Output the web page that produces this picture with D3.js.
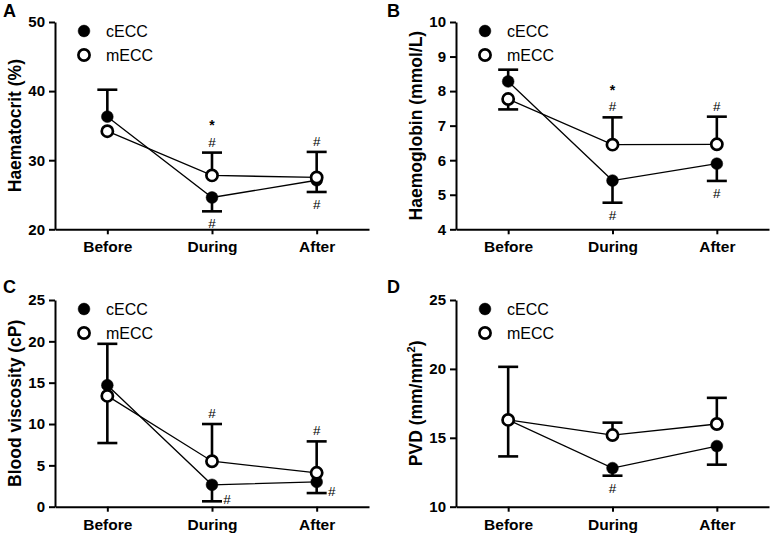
<!DOCTYPE html>
<html>
<head>
<meta charset="utf-8">
<script src="https://cdn.jsdelivr.net/npm/d3@7"></script>
<style>
  html, body { margin: 0; padding: 0; background: #fff; }
  svg { display: block; font-family: "Liberation Sans", Arial, Helvetica, sans-serif; }
</style>
</head>
<body>
<svg id="chart" width="771" height="534"></svg>
<script>
// ---------- data ----------
const categories = ["Before", "During", "After"];
const seriesNames = ["cECC", "mECC"];

// Panel A: Haematocrit (%)
const haematocritC = [36.3, 24.6, 27.1];
const haematocritM = [34.2, 27.8, 27.5];
const haematocritErrC = [3.9, -2.0, -1.7];   // sign = bar direction (+ up, - down)
const haematocritErrM = [0, 3.3, 3.7];
const haematocritTicks = [20, 30, 40, 50];

// Panel B: Haemoglobin (mmol/L)
const haemoglobinC = [8.28, 5.41, 5.90];
const haemoglobinM = [7.77, 6.45, 6.46];
const haemoglobinErrC = [0.34, -0.64, -0.50];
const haemoglobinErrM = [-0.30, 0.79, 0.80];
const haemoglobinTicks = [4, 5, 6, 7, 8, 9, 10];

// Panel C: Blood viscosity (cP)
const viscosityC = [14.7, 2.65, 3.0];
const viscosityM = [13.4, 5.5, 4.1];
const viscosityErrC = [5.0, -2.0, -1.35];
const viscosityErrM = [-5.7, 4.5, 3.8];
const viscosityTicks = [0, 5, 10, 15, 20, 25];

// Panel D: PVD (mm/mm2)
const pvdC = [16.3, 12.8, 14.4];
const pvdM = [16.3, 15.2, 16.0];
const pvdErrC = [3.85, -0.55, -1.35];
const pvdErrM = [-2.65, 0.9, 1.9];
const pvdTicks = [10, 15, 20, 25];

// significance marks: [category index, series index, placement, symbols (bottom -> top)]
const marksA = [[1, 1, "above", ["#", "*"]], [2, 1, "above", ["#"]], [1, 0, "below", ["#"]], [2, 0, "below", ["#"]]];
const marksB = [[1, 1, "above", ["#", "*"]], [2, 1, "above", ["#"]], [1, 0, "below", ["#"]], [2, 0, "below", ["#"]]];
const marksC = [[1, 1, "above", ["#"]], [2, 1, "above", ["#"]], [1, 0, "right", ["#"]], [2, 0, "right", ["#"]]];
const marksD = [[1, 0, "below", ["#"]]];

// ---------- layout ----------
const panels = [
  { label: "A", title: "Haematocrit (%)", x0: 55, x1: 369, y0: 22, y1: 229.3,
    domain: [20, 50], ticks: haematocritTicks, c: haematocritC, m: haematocritM,
    ec: haematocritErrC, em: haematocritErrM, marks: marksA, lx: 3, ly: 17 },
  { label: "B", title: "Haemoglobin (mmol/L)", x0: 456, x1: 769, y0: 22, y1: 229.3,
    domain: [4, 10], ticks: haemoglobinTicks, c: haemoglobinC, m: haemoglobinM,
    ec: haemoglobinErrC, em: haemoglobinErrM, marks: marksB, lx: 387, ly: 17 },
  { label: "C", title: "Blood viscosity (cP)", x0: 55, x1: 369, y0: 300, y1: 506.7,
    domain: [0, 25], ticks: viscosityTicks, c: viscosityC, m: viscosityM,
    ec: viscosityErrC, em: viscosityErrM, marks: marksC, lx: 3, ly: 293 },
  { label: "D", title: "PVD", x0: 456, x1: 769, y0: 300, y1: 506.7,
    domain: [10, 25], ticks: pvdTicks, c: pvdC, m: pvdM,
    ec: pvdErrC, em: pvdErrM, marks: marksD, lx: 387, ly: 293, sup: true }
];

const svg = d3.select("#chart");
const R = 5.9;
const CAP = 10;

panels.forEach(p => {
  const g = svg.append("g");
  const x = d3.scalePoint().domain(categories).range([p.x0, p.x1]).padding(0.5);
  const y = d3.scaleLinear().domain(p.domain).range([p.y1, p.y0]);

  // panel letter
  g.append("text").attr("x", p.lx).attr("y", p.ly)
    .attr("font-size", 18).attr("font-weight", "bold").text(p.label);

  // axes
  const yAxis = g.append("g").attr("transform", `translate(${p.x0},0)`)
    .call(d3.axisLeft(y).tickValues(p.ticks).tickFormat(d3.format("d"))
      .tickSize(6).tickSizeOuter(0).tickPadding(4));
  const xAxis = g.append("g").attr("transform", `translate(0,${p.y1})`)
    .call(d3.axisBottom(x).tickSize(5).tickSizeOuter(0).tickPadding(7));
  [yAxis, xAxis].forEach(a => {
    a.selectAll("path, line").attr("stroke", "#000").attr("stroke-width", 2);
    a.selectAll("text").attr("fill", "#000").attr("font-weight", "bold")
      .attr("font-family", "Liberation Sans, Arial, sans-serif");
  });
  yAxis.selectAll("text").attr("font-size", 15);
  xAxis.selectAll("text").attr("font-size", 15.5);

  // y title
  const yt = g.append("text")
    .attr("transform", `translate(${p.x0 - 34},${(p.y0 + p.y1) / 2}) rotate(-90)`)
    .attr("text-anchor", "middle").attr("font-size", 17.5).attr("font-weight", "bold")
    .text(p.title);
  if (p.sup) {
    yt.append("tspan").text(" (mm/mm");
    yt.append("tspan").attr("font-size", 11).attr("dy", -7).text("2");
    yt.append("tspan").attr("dy", 7).text(")");
  }

  const series = [
    { vals: p.c, errs: p.ec, filled: true },
    { vals: p.m, errs: p.em, filled: false }
  ];

  const line = d3.line().x((d, i) => x(categories[i])).y(d => y(d));

  // connecting lines
  series.forEach(s => {
    g.append("path").datum(s.vals).attr("d", line)
      .attr("fill", "none").attr("stroke", "#000").attr("stroke-width", 1.3);
  });

  // error bars
  series.forEach(s => {
    s.vals.forEach((v, i) => {
      const e = s.errs[i];
      if (!e) return;
      const cx = x(categories[i]);
      const yEnd = y(v + e);
      g.append("line").attr("x1", cx).attr("x2", cx).attr("y1", y(v)).attr("y2", yEnd)
        .attr("stroke", "#000").attr("stroke-width", 2.6);
      g.append("line").attr("x1", cx - CAP).attr("x2", cx + CAP).attr("y1", yEnd).attr("y2", yEnd)
        .attr("stroke", "#000").attr("stroke-width", 2.6);
    });
  });

  // markers
  series.forEach(s => {
    g.selectAll(null).data(s.vals).enter().append("circle")
      .attr("cx", (d, i) => x(categories[i])).attr("cy", d => y(d))
      .attr("r", s.filled ? R : R - 0.3)
      .attr("fill", s.filled ? "#000" : "#fff")
      .attr("stroke", "#000").attr("stroke-width", s.filled ? 0.5 : 2.7);
  });

  // significance marks
  p.marks.forEach(([ci, si, where, syms]) => {
    const s = series[si];
    const v = s.vals[ci], e = s.errs[ci];
    const capY = y(v + e);
    const cx = x(categories[ci]);
    syms.forEach((sym, k) => {
      let tx = cx, ty;
      if (where === "above") {
        ty = sym === "*" ? capY - 22.5 : capY - 6;
      } else if (where === "below") {
        ty = capY + 17;
      } else {
        tx = cx + 15; ty = capY + 3;
      }
      g.append("text").attr("x", tx).attr("y", ty).attr("text-anchor", "middle")
        .attr("font-size", sym === "*" ? 14 : 13.5).attr("font-weight", sym === "*" ? "bold" : "normal")
        .text(sym);
    });
  });

  // legend
  const lgx = p.x0 + 29, lgy = p.y0 + 9;
  seriesNames.forEach((name, i) => {
    const yy = lgy + i * 24;
    g.append("circle").attr("cx", lgx).attr("cy", yy).attr("r", i === 0 ? R : R - 0.3)
      .attr("fill", i === 0 ? "#000" : "#fff").attr("stroke", "#000")
      .attr("stroke-width", i === 0 ? 0.5 : 2.7);
    g.append("text").attr("x", lgx + 22).attr("y", yy + 5.5)
      .attr("font-size", 16).text(name);
  });
});
</script>
</body>
</html>
